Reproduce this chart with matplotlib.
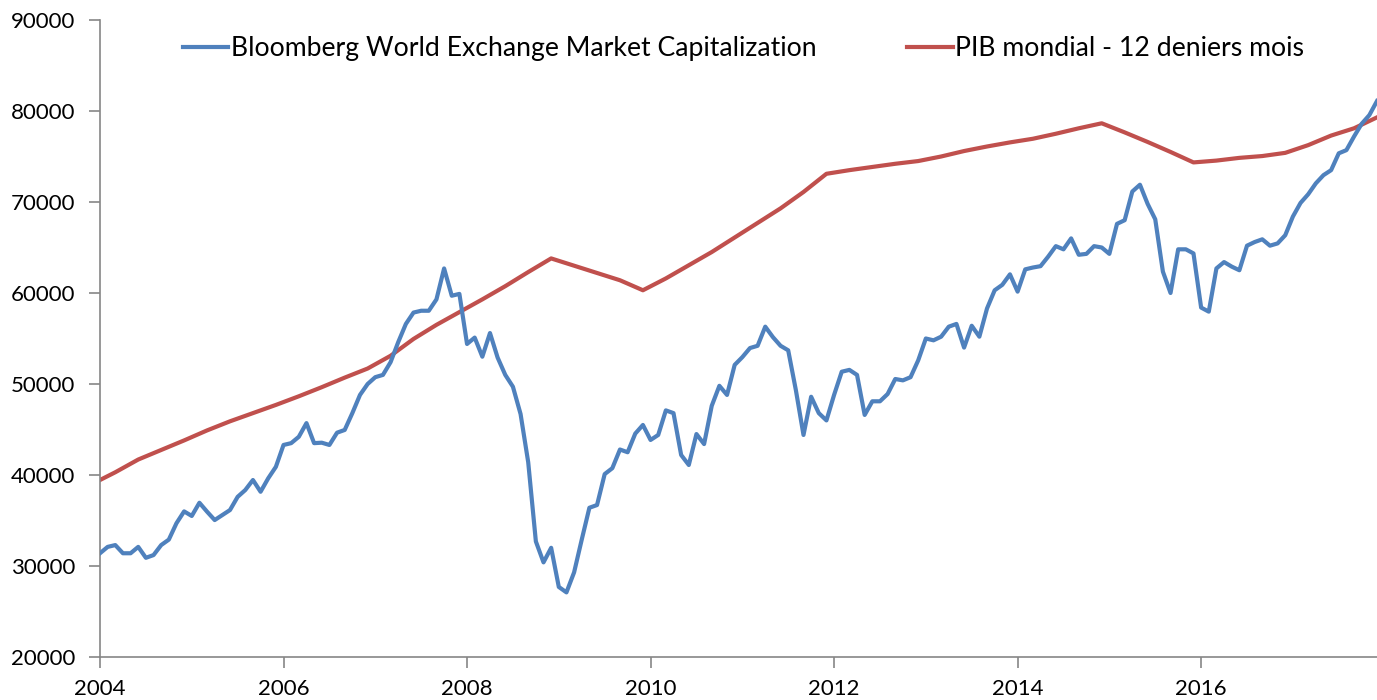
import numpy as np
import matplotlib.pyplot as plt

# Bloomberg World Exchange Market Capitalization, monthly, Jan 2004 -> Dec 2017
cap_values = [
    31400, 32100, 32300, 31400, 31400, 32100, 30900, 31200, 32300, 32900, 34700, 36000,
    35500, 36950, 35970, 35050, 35600, 36150, 37600, 38350, 39450, 38160, 39640, 40900,
    43300, 43500, 44200, 45700, 43500, 43550, 43300, 44650, 44950, 46800, 48800, 50000,
    50750, 51000, 52400, 54600, 56600, 57850, 58050, 58050, 59300, 62700, 59700, 59900,
    54400, 55100, 53000, 55600, 52900, 51000, 49700, 46700, 41400, 32700, 30400, 32000,
    27700, 27100, 29300, 32900, 36400, 36700, 40100, 40750, 42800, 42500, 44550, 45500,
    43850, 44400, 47100, 46800, 42200, 41100, 44500, 43400, 47600, 49800, 48800, 52100,
    52950, 53950, 54200, 56300, 55150, 54200, 53700, 49340, 44400, 48600, 46800, 46000,
    48800, 51350, 51550, 51000, 46600, 48100, 48100, 48900, 50550, 50400, 50750, 52600,
    55000, 54800, 55200, 56300, 56600, 54000, 56400, 55200, 58300, 60300, 60900, 62050,
    60150, 62600, 62800, 62950, 64000, 65150, 64800, 66000, 64200, 64300, 65150, 65000,
    64300, 67600, 68000, 71150, 71900, 69800, 68100, 62350, 60000, 64800, 64800, 64350,
    58400, 57950, 62700, 63400, 62900, 62500, 65200, 65600, 65900, 65200, 65450, 66350,
    68400, 69900, 70850, 72050, 72950, 73500, 75350, 75700, 77200, 78600, 79550, 81100,
]

# PIB mondial - 12 derniers mois, read every ~3 months (month index from Jan 2004)
gdp_months = [0, 2, 5, 8, 11, 14, 17, 20, 23, 26, 29, 32, 35, 38, 41, 44, 47, 50, 53,
              56, 59, 62, 65, 68, 71, 74, 77, 80, 83, 86, 89, 92, 95, 98, 101, 104, 107,
              110, 113, 116, 119, 122, 125, 128, 131, 134, 137, 140, 143, 146, 149, 152,
              155, 158, 161, 164, 167]
gdp_values = [39450, 40300, 41700, 42750, 43800, 44900, 45900, 46800, 47700, 48650,
              49650, 50700, 51700, 53100, 54950, 56500, 57900, 59300, 60750, 62300,
              63800, 63000, 62200, 61400, 60300, 61600, 63050, 64500, 66100, 67700,
              69300, 71100, 73100, 73500, 73850, 74200, 74500, 75000, 75600, 76100,
              76550, 76950, 77500, 78100, 78650, 77650, 76600, 75500, 74350, 74550,
              74850, 75050, 75400, 76250, 77300, 78100, 79300]

label_cap = "Bloomberg World Exchange Market Capitalization"
label_gdp = "PIB mondial - 12 deniers mois"

plt.rcParams['font.family'] = ['Lato', 'DejaVu Sans']

cap_x = 2004 + np.arange(len(cap_values)) / 12
gdp_x = 2004 + np.array(gdp_months) / 12

fig = plt.figure(figsize=(13.77, 7), dpi=100)
ax = fig.add_axes([100 / 1377, 43 / 700, 1277 / 1377, 637 / 700])

ax.plot(gdp_x, gdp_values, color='#C0504D', lw=3, label=label_gdp, zorder=2)
ax.plot(cap_x, cap_values, color='#4F81BD', lw=3, label=label_cap, zorder=3)

ax.set_xlim(2004, 2004 + 167 / 12)
ax.set_ylim(20000, 90000)
ax.set_yticks(np.arange(20000, 90001, 10000))
ax.set_xticks(np.arange(2004, 2017, 2))

for side in ['top', 'right']:
    ax.spines[side].set_visible(False)
for side in ['left', 'bottom']:
    ax.spines[side].set_color('#868686')
    ax.spines[side].set_linewidth(1.2)
ax.tick_params(axis='both', direction='out', length=8, width=1.2, color='#868686',
               labelsize=16, labelcolor='black')
ax.tick_params(axis='y', pad=10)
ax.tick_params(axis='x', pad=8)

handles, labels = ax.get_legend_handles_labels()
ax.legend(handles[::-1], labels[::-1], loc='upper center', bbox_to_anchor=(0.504, 1.012),
          ncol=2, frameon=False, fontsize=19.2, handlelength=1.7, handletextpad=0.1,
          columnspacing=3.4)

fig.savefig('out.png', dpi=100)
